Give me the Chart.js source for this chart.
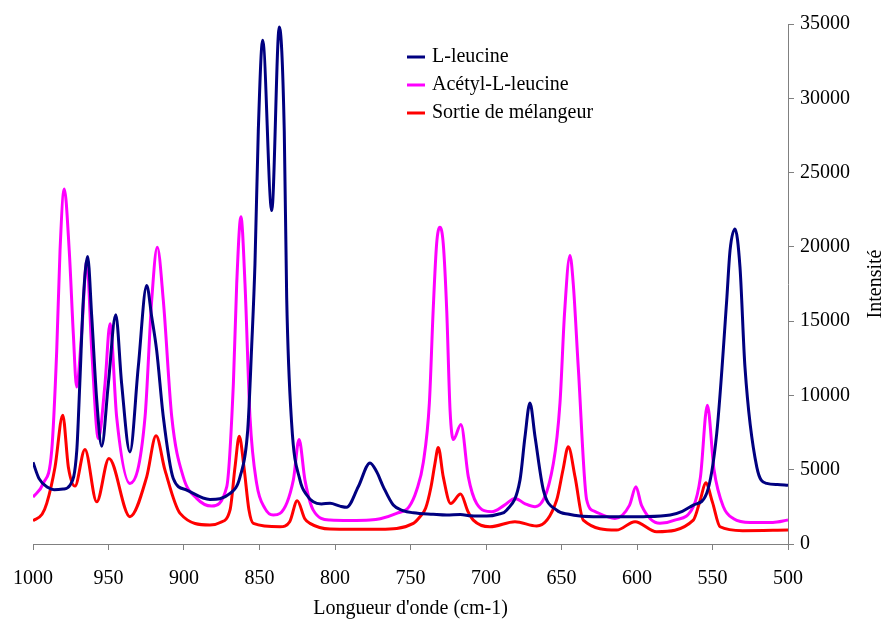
<!DOCTYPE html>
<html>
<head>
<meta charset="utf-8">
<script src="https://cdn.jsdelivr.net/npm/chart.js@4.4.1/dist/chart.umd.min.js"></script>
<style>
body { margin: 0; background: #fff; }
</style>
</head>
<body>
<canvas id="spectre" width="884" height="621"></canvas>
<script>
var leucineX = [1000, 996, 990, 986, 980, 975.5, 971, 969, 966.7, 963.8, 961.1, 957.8, 954.5, 950.1, 945.2, 941.3, 935.8, 930.3, 924.7, 921.4, 918.1, 913.7, 907.1, 898.2, 882.8, 869.5, 862.9, 857.8, 855.2, 853, 850.8, 847.9, 841.9, 836.9, 833.6, 832, 828.7, 823.2, 818.7, 814.4, 809, 803.3, 796.7, 792.3, 784.6, 776.8, 772.4, 768, 761.4, 755, 748.1, 735, 726, 717, 710, 699.5, 692, 686.3, 677.5, 674.2, 670.9, 667.5, 662, 653.2, 645, 637.7, 629, 610, 596, 578, 570, 562.7, 553.9, 547.2, 540.6, 538.4, 535.1, 531.8, 528.5, 520.7, 514.1, 507, 500];
var leucineY = [5500, 4400, 3800, 3650, 3700, 3960, 6300, 10800, 16400, 19350, 15300, 9700, 6580, 10800, 15430, 10800, 6200, 11900, 17400, 15300, 13030, 8550, 4410, 3630, 3000, 3400, 4520, 7660, 13260, 18860, 27800, 33900, 22440, 34800, 27800, 16600, 8100, 4300, 3300, 2840, 2700, 2740, 2550, 2470, 3850, 5460, 4860, 3850, 2620, 2250, 2100, 2000, 1950, 1980, 1900, 1880, 2000, 2280, 4300, 7200, 9490, 7200, 3630, 2280, 2000, 1880, 1840, 1830, 1840, 1950, 2200, 2620, 3400, 7440, 16390, 19750, 21200, 18630, 11900, 5190, 4080, 4000, 3960];

var acetylX = [1000, 993.2, 987.6, 984.3, 982.1, 979.3, 976, 973.3, 971.1, 967.8, 964.4, 961.1, 956.7, 952.3, 949, 944.6, 935.8, 925.8, 921.4, 917.7, 913.7, 908.1, 900.5, 891.6, 881.7, 871.7, 867.3, 865.1, 862.3, 859.6, 856.3, 851.9, 846.4, 840.9, 836.4, 827.6, 823.8, 819.9, 814.4, 803.3, 790, 776.8, 770, 759.2, 751, 745.9, 741.5, 737.5, 735, 732.7, 730.5, 728.3, 726, 723.8, 721.6, 716.6, 711.7, 706.2, 696.2, 688, 680.8, 674, 667.5, 655.4, 651, 648, 644.4, 642.2, 638.9, 633.3, 628, 614.6, 605, 600.7, 597, 584.8, 575, 562.7, 558, 553.4, 549, 542.8, 536, 525, 510, 500];
var acetylY = [3150, 4080, 6300, 13000, 19750, 23900, 19750, 14150, 10570, 14150, 19080, 13030, 7100, 10800, 14830, 8550, 4080, 8550, 16390, 19980, 16390, 8550, 4520, 3070, 2550, 3850, 10800, 17500, 22030, 17500, 8550, 4080, 2400, 1950, 2060, 4300, 7030, 4300, 2280, 1610, 1580, 1610, 1700, 2060, 2500, 3630, 5500, 9500, 15700, 20200, 21320, 20200, 15700, 9000, 7030, 8040, 4520, 2730, 2170, 2600, 3070, 2700, 2510, 5420, 9500, 15500, 19420, 17500, 11900, 2960, 2200, 1720, 2600, 3850, 2600, 1390, 1600, 2510, 4500, 9340, 5000, 2510, 1700, 1450, 1450, 1610];

var sortieX = [1000, 994, 990.9, 985.4, 980.3, 976.6, 972.2, 965.6, 957.8, 949.7, 935.8, 924.7, 918.5, 912.6, 902.6, 882.8, 876, 869.5, 866.2, 863.4, 860.3, 857, 854.1, 836.4, 830, 825, 820, 816.6, 803.3, 770.2, 748.1, 744, 740, 736.5, 733.8, 731.6, 728.3, 723.4, 716.8, 712, 708.4, 697.4, 680.8, 666.4, 653.2, 649, 645.5, 641, 635.6, 613.5, 601.3, 587, 562.7, 558, 554.5, 550, 545, 530, 500];
var sortieY = [1570, 2000, 2730, 5190, 8670, 5190, 3900, 6360, 2840, 5760, 1840, 4520, 7280, 4970, 2060, 1280, 1450, 2300, 5190, 7260, 5190, 2300, 1390, 1160, 1500, 2910, 1700, 1390, 1010, 990, 1390, 1800, 2400, 3800, 5420, 6500, 4520, 2730, 3360, 2200, 1610, 1160, 1500, 1210, 2960, 5000, 6540, 4500, 1610, 940, 1500, 830, 1610, 3000, 4120, 2800, 1160, 900, 940];

var xTicks = [1000, 950, 900, 850, 800, 750, 700, 650, 600, 550, 500];
var yTicks = [0, 5000, 10000, 15000, 20000, 25000, 30000, 35000];

var noms = ['L-leucine', 'Acétyl-L-leucine', 'Sortie de mélangeur'];
var couleurs = ['#000080', '#ff00ff', '#ff0000'];

var police = { family: '"Liberation Serif", "Times New Roman", serif', size: 20 };

function points(xs, ys) {
  return xs.map(function (x, i) { return { x: x, y: ys[i] }; });
}

// légende dans le graphique + titre vertical de l'axe de droite
var legende = {
  id: 'legende',
  afterDraw: function (chart) {
    var ctx = chart.ctx;
    var a = chart.chartArea;
    ctx.save();
    ctx.font = '20px "Liberation Serif"';
    ctx.textBaseline = 'middle';
    chart.data.datasets.forEach(function (ds, i) {
      var y = 57 + i * 28;
      ctx.strokeStyle = ds.borderColor;
      ctx.lineWidth = 3;
      ctx.beginPath();
      ctx.moveTo(407, y);
      ctx.lineTo(425, y);
      ctx.stroke();
      ctx.fillStyle = '#000';
      ctx.fillText(ds.label, 432, y);
    });
    ctx.translate(876, (a.top + a.bottom) / 2);
    ctx.rotate(-Math.PI / 2);
    ctx.textAlign = 'center';
    ctx.fillText('Intensité', 0, 0);
    ctx.restore();
  }
};

var ctx = document.getElementById('spectre').getContext('2d');
var chart = new Chart(ctx, {
  type: 'line',
  data: {
    datasets: [
      { label: noms[0], data: points(leucineX, leucineY), borderColor: couleurs[0] },
      { label: noms[1], data: points(acetylX, acetylY), borderColor: couleurs[1] },
      { label: noms[2], data: points(sortieX, sortieY), borderColor: couleurs[2] }
    ]
  },
  options: {
    responsive: false,
    animation: false,
    layout: { padding: { left: 33, top: 24, right: 0, bottom: 0 } },
    elements: {
      point: { radius: 0 },
      line: { borderWidth: 3, fill: false, cubicInterpolationMode: 'monotone' }
    },
    plugins: { legend: { display: false }, tooltip: { enabled: false } },
    scales: {
      x: {
        type: 'linear',
        reverse: true,
        min: 500,
        max: 1000,
        afterBuildTicks: function (s) { s.ticks = xTicks.map(function (v) { return { value: v }; }); },
        afterFit: function (s) { s.height = 77; s.paddingLeft = 0; s.paddingRight = 0; },
        ticks: { font: police, color: '#000', padding: 17, maxRotation: 0, autoSkip: false,
                 callback: function (v) { return String(v); } },
        grid: { drawOnChartArea: false, tickLength: 6, color: '#808080' },
        border: { color: '#808080' },
        title: { display: true, text: "Longueur d'onde (cm-1)", font: police, color: '#000',
                 padding: { top: 0, bottom: 0 } }
      },
      y: {
        position: 'right',
        min: 0,
        max: 35000,
        afterBuildTicks: function (s) { s.ticks = yTicks.map(function (v) { return { value: v }; }); },
        afterFit: function (s) { s.width = 96; },
        ticks: { font: police, color: '#000', padding: 6,
                 callback: function (v) { return String(v); } },
        grid: { drawOnChartArea: false, tickLength: 6, color: '#808080' },
        border: { color: '#808080' }
      }
    }
  },
  plugins: [legende]
});
</script>
</body>
</html>
